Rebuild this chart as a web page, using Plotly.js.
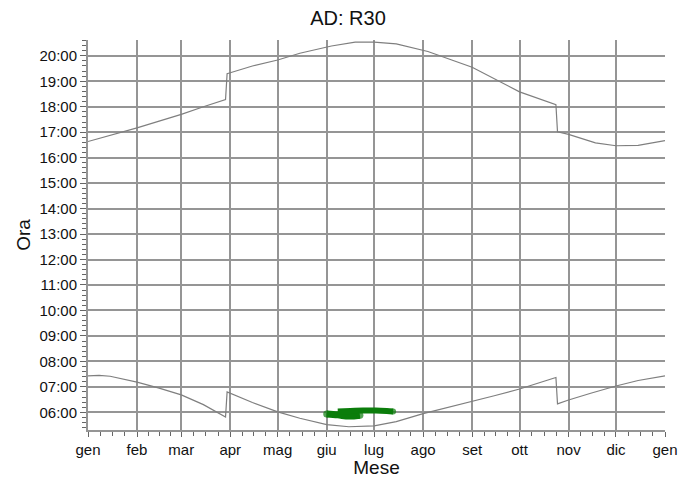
<!DOCTYPE html>
<html>
<head>
<meta charset="utf-8">
<script src="https://cdn.plot.ly/plotly-3.0.1.min.js"></script>
<style>html,body{margin:0;padding:0;background:#fff;}#chart{width:696px;height:478px;}</style>
</head>
<body>
<div id="chart"></div>
<script>
// Month ticks
const monthLabels = ['gen','feb','mar','apr','mag','giu','lug','ago','set','ott','nov','dic','gen'];
const monthDates = ['2023-01-01','2023-02-01','2023-03-01','2023-04-01','2023-05-01','2023-06-01','2023-07-01','2023-08-01','2023-09-01','2023-10-01','2023-11-01','2023-12-01','2024-01-01'];

// Hour ticks
const hourVals = [6,7,8,9,10,11,12,13,14,15,16,17,18,19,20];
const hourLabels = ['06:00','07:00','08:00','09:00','10:00','11:00','12:00','13:00','14:00','15:00','16:00','17:00','18:00','19:00','20:00'];

// Upper curve (sunset)
const setDates = ['2023-01-01','2023-01-15','2023-02-01','2023-02-15','2023-03-01','2023-03-15','2023-03-29','2023-03-30','2023-04-01','2023-04-15','2023-05-01','2023-05-15','2023-06-01','2023-06-04','2023-06-19','2023-07-01','2023-07-15','2023-07-27','2023-08-04','2023-09-01','2023-10-01','2023-10-24','2023-10-25','2023-11-01','2023-11-18','2023-12-01','2023-12-15','2024-01-01'];
const setTimes = ['16:38','16:52','17:10','17:26','17:42','18:00','18:17','19:18','19:20','19:36','19:50','20:06','20:20','20:23','20:32','20:32','20:28','20:17','20:10','19:33','18:35','18:05','17:01','16:55','16:35','16:28','16:29','16:40'];

// Lower curve (sunrise)
const riseDates = ['2023-01-01','2023-01-08','2023-01-15','2023-02-01','2023-02-15','2023-03-01','2023-03-15','2023-03-29','2023-03-30','2023-04-01','2023-04-15','2023-05-01','2023-05-15','2023-06-01','2023-06-15','2023-07-01','2023-07-15','2023-08-01','2023-08-15','2023-09-01','2023-09-15','2023-10-01','2023-10-24','2023-10-25','2023-11-01','2023-11-15','2023-12-01','2023-12-15','2024-01-01'];
const riseTimes = ['07:26','07:27','07:25','07:11','06:57','06:41','06:18','05:49','06:48','06:45','06:23','06:01','05:46','05:31','05:26','05:28','05:38','05:57','06:10','06:25','06:39','06:55','07:22','06:20','06:29','06:45','07:02','07:15','07:26'];

// Green events
const greenADates = ['2023-06-01','2023-06-08','2023-06-15','2023-06-22'];
const greenATimes = ['05:56','05:54','05:51','05:53'];
const greenBDates = ['2023-06-08','2023-06-16','2023-06-24','2023-07-02','2023-07-09','2023-07-13'];
const greenBTimes = ['06:02','06:03','06:04','06:04','06:03','06:02'];

function toHours(arr){ return arr.map(s => { const p = s.split(':'); return (+p[0]) + (+p[1])/60; }); }

// quarter-month minor ticks
const minorX = [];
for (let i = 0; i < monthDates.length - 1; i++) {
  const a = new Date(monthDates[i] + 'T00:00:00Z').getTime();
  const b = new Date(monthDates[i+1] + 'T00:00:00Z').getTime();
  for (let k = 1; k < 4; k++) {
    const d = new Date(a + (b - a) * k / 4);
    minorX.push(d.toISOString().slice(0,19).replace('T',' '));
  }
}

const font = 'Liberation Sans, Arial, sans-serif';
const grey = '#7f7f7f';
const green = '#0b7d0b';

const traces = [
  {x: setDates, y: toHours(setTimes), mode: 'lines', line: {color: grey, width: 1.2}, hoverinfo: 'skip'},
  {x: riseDates, y: toHours(riseTimes), mode: 'lines', line: {color: grey, width: 1.2}, hoverinfo: 'skip'},
  {x: greenADates, y: toHours(greenATimes), mode: 'lines', line: {color: green, width: 7, shape: 'spline'}, hoverinfo: 'skip'},
  {x: greenBDates, y: toHours(greenBTimes), mode: 'lines', line: {color: green, width: 6, shape: 'spline'}, hoverinfo: 'skip'},
  {x: [greenADates[0], greenADates[greenADates.length-1], greenBDates[greenBDates.length-1]],
   y: toHours([greenATimes[0], greenATimes[greenATimes.length-1], greenBTimes[greenBTimes.length-1]]),
   mode: 'markers', marker: {color: green, size: [7, 7, 6], line: {width: 0}}, hoverinfo: 'skip'}
];

const layout = {
  width: 696, height: 478,
  margin: {l: 88, r: 31, t: 40, b: 48},
  paper_bgcolor: '#fff', plot_bgcolor: '#fff',
  showlegend: false,
  font: {family: font, color: '#111'},
  title: {text: 'AD: R30', font: {size: 20, family: font, color: '#111'}, x: 0.5, xanchor: 'center', y: 0.962, yanchor: 'middle'},
  xaxis: {
    type: 'date',
    range: ['2023-01-01', '2024-01-01'],
    tickmode: 'array', tickvals: monthDates, ticktext: monthLabels,
    showgrid: true, gridcolor: '#959595', gridwidth: 2,
    ticks: 'outside', ticklen: 5, tickcolor: '#666', tickwidth: 1,
    showline: true, linecolor: '#959595', linewidth: 2,
    zeroline: false,
    tickfont: {size: 15, family: font, color: '#111'},
    minor: {tickmode: 'array', tickvals: minorX, ticks: 'outside', ticklen: 4, tickcolor: '#666', showgrid: false},
    title: {text: 'Mese', font: {size: 19, family: font, color: '#111'}, standoff: 1}
  },
  yaxis: {
    range: [5.305, 20.62],
    tickmode: 'array', tickvals: hourVals, ticktext: hourLabels,
    showgrid: true, gridcolor: '#959595', gridwidth: 2,
    ticks: 'outside', ticklen: 6, tickcolor: '#666', tickwidth: 1,
    showline: true, linecolor: '#959595', linewidth: 2,
    zeroline: false,
    tickfont: {size: 15, family: font, color: '#111'},
    minor: {tick0: 0, dtick: 0.2, ticks: 'outside', ticklen: 4, tickcolor: '#666', showgrid: false},
    title: {text: 'Ora', font: {size: 19, family: font, color: '#111'}, standoff: 4}
  }
};

Plotly.newPlot('chart', traces, layout, {displayModeBar: false, staticPlot: true});
</script>
</body>
</html>
